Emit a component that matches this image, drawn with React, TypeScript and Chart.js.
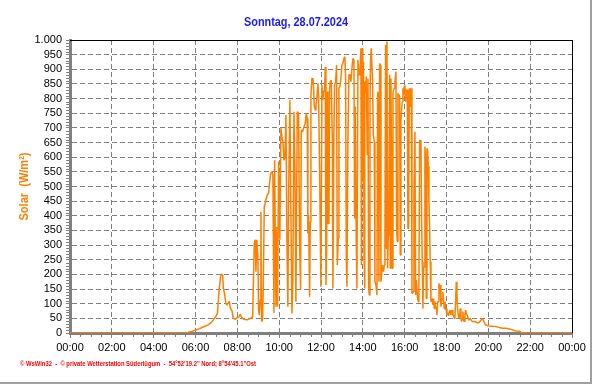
import { useEffect, useRef } from 'react';
import { Chart, registerables } from 'chart.js';

Chart.register(...registerables);

const chartTitle = 'Sonntag, 28.07.2024';
const yAxisTitle = 'Solar  (W/m²)';
const footerText = '© WsWin32  -  © private Wetterstation Süderlügum  -  54°52\'19.2" Nord; 8°54\'45.1"Ost';

const xTickLabels = ['00:00', '02:00', '04:00', '06:00', '08:00', '10:00', '12:00', '14:00', '16:00', '18:00', '20:00', '22:00', '00:00'];
const yTickLabels = ['0', '50', '100', '150', '200', '250', '300', '350', '400', '450', '500', '550', '600', '650', '700', '750', '800', '850', '900', '950', '1.000'];

// time of day in minutes
const solarMinutes = [
  0, 335, 340, 350, 361, 372, 385, 395, 400, 407, 414, 418, 423, 428, 433, 438, 440, 443, 447, 450,
  457, 460, 465, 468, 474, 481, 484, 488, 492, 498, 508, 517, 524, 528.5, 531.4, 533.3, 536.2, 539, 541, 542.9,
  545.7, 547.7, 549.6, 552.4, 554.3, 557.2, 560, 563, 565.8, 569.6, 572.5, 575.4, 579.2, 582, 585, 586.9, 590.7, 593.5, 595.5, 598.3,
  602, 605, 607.9, 610.7, 613.6, 616.5, 619.4, 622.2, 625, 627, 630.8, 633.7, 636.6, 639.4, 642.3, 645.2, 648, 651.9, 655.7, 658.5,
  661.4, 663.3, 667.2, 670, 674.8, 677.7, 680.5, 682.4, 684.4, 687.3, 689.2, 691.1, 694, 696.9, 698.8, 700.7, 703.6, 705.5, 708.3, 711.2,
  713.1, 716, 717.9, 719.8, 722.7, 725.5, 727.5, 730.3, 732.2, 734.2, 736.1, 738, 739.9, 742.8, 744.7, 746.6, 749.5, 752.3, 754.2, 757.1,
  759, 761.9, 764.7, 766.7, 769.5, 771.4, 774.3, 777.2, 780, 782.9, 785.8, 788.6, 790.6, 792.5, 794.4, 797.2, 800.1, 803, 805.9, 808.7,
  811.6, 814.5, 816.4, 818.3, 821.1, 823.1, 825.9, 828.8, 831.7, 834.5, 836, 838, 840, 842, 843.5, 845, 846.1, 848, 849.9, 852.8,
  854.7, 856.6, 858.5, 860.4, 862.3, 864.2, 866.1, 868.1, 870, 872.8, 874.7, 877.6, 880.5, 882.4, 884.3, 886.2, 888.1, 890, 892, 893.9,
  895.8, 897.7, 899.6, 901.5, 903.4, 905.3, 907.2, 909.2, 911.1, 913, 914.9, 916.8, 918.7, 920.6, 922.5, 924.5, 926.4, 928.3, 930.2, 932.1,
  935, 936.9, 938.8, 940.7, 943.6, 945.5, 947.4, 949.3, 951.2, 953.1, 955, 957, 958.9, 960.8, 962.7, 964.6, 967.5, 969.4, 971.3, 973.2,
  975.1, 977, 979, 980.9, 982.8, 984.7, 986.6, 989.5, 991.4, 993.3, 995.2, 997.1, 999, 1000.9, 1002.9, 1004.8, 1006.7, 1008.6, 1010.5, 1012.4,
  1014.3, 1016.2, 1018.1, 1020.1, 1022, 1023.9, 1025.8, 1027.7, 1029.6, 1031.5, 1033.4, 1035.4, 1037.3, 1039.2, 1041.1, 1043, 1044.9, 1046.8, 1048.7, 1050.7,
  1052.6, 1054.5, 1056.4, 1058.3, 1060.2, 1062.1, 1064, 1066, 1067.9, 1069.8, 1071.7, 1073.6, 1075.5, 1077.4, 1079.3, 1081.3, 1083.2, 1085.1, 1087, 1088.9,
  1090.8, 1092.7, 1094.6, 1096.5, 1098.5, 1100.4, 1102.3, 1104.2, 1106.1, 1108, 1109.9, 1111.8, 1113.8, 1115.7, 1117.6, 1119.5, 1121.4, 1123.3, 1125.2, 1127.1,
  1129, 1131, 1132.9, 1134.8, 1136.7, 1139.6, 1142.4, 1145.3, 1148.2, 1151, 1153.9, 1158, 1162.9, 1167.8, 1172.7, 1177.6, 1182.4, 1185.4, 1189.3, 1192.2,
  1202, 1211.7, 1221.5, 1231.2, 1241, 1250.7, 1260.5, 1270.2, 1280, 1289.8, 1294.6, 1299.5, 1440,
];

// solar radiation in W/m²
const solarValues = [
  0, 0, 3, 6, 10, 15, 22, 27, 31, 38, 50, 55, 68, 152, 200, 198, 152, 136, 102, 95,
  108, 84, 75, 51, 47, 53, 54, 65, 55, 47, 45, 50, 55, 306, 318, 209, 318, 261, 78, 61,
  113, 414, 39, 44, 147, 431, 443, 460, 471, 477, 511, 543, 551, 539, 67, 590, 90, 363, 90, 585,
  318, 699, 670, 653, 590, 597, 744, 318, 90, 460, 795, 408, 67, 181, 755, 568, 107, 755, 750, 318,
  147, 693, 687, 699, 716, 750, 733, 340, 403, 124, 380, 812, 869, 869, 835, 778, 761, 778, 801, 852,
  807, 556, 357, 158, 846, 795, 824, 829, 909, 164, 272, 824, 374, 374, 835, 858, 863, 676, 152, 687,
  846, 858, 915, 232, 323, 835, 841, 869, 915, 920, 937, 943, 869, 261, 158, 664, 881, 881, 858, 903,
  937, 932, 391, 772, 312, 152, 932, 881, 881, 972, 232, 972, 517, 926, 266, 152, 858, 818, 875, 608,
  869, 152, 130, 789, 932, 972, 972, 852, 676, 653, 175, 164, 130, 824, 812, 175, 920, 915, 175, 198,
  232, 232, 209, 232, 278, 983, 289, 995, 221, 335, 465, 881, 221, 869, 551, 221, 818, 829, 835, 858,
  892, 357, 312, 818, 812, 807, 266, 727, 761, 789, 835, 812, 841, 846, 789, 829, 829, 357, 357, 835,
  778, 772, 835, 136, 136, 141, 477, 687, 130, 181, 181, 118, 107, 175, 659, 653, 659, 380, 243, 84,
  221, 226, 636, 585, 118, 630, 625, 568, 448, 363, 243, 107, 113, 118, 96, 118, 84, 107, 84, 90,
  61, 107, 107, 170, 152, 164, 90, 107, 118, 141, 107, 84, 107, 78, 84, 61, 67, 61, 67, 73,
  78, 61, 73, 78, 61, 61, 50, 56, 107, 175, 130, 84, 61, 50, 61, 84, 50, 39, 50, 73,
  43, 39, 61, 78, 67, 61, 50, 44, 50, 44, 39, 39, 39, 35, 35, 42, 50, 44, 33, 27,
  24, 23, 22, 19, 16, 16, 14, 10, 7, 6, 2, 0, 0,
];

const FONT = "'Liberation Sans', Arial, sans-serif";

function drawFitted(
  ctx: CanvasRenderingContext2D,
  text: string,
  x: number,
  y: number,
  targetW: number,
  font: string,
  color: string,
  align: CanvasTextAlign,
  rotate = 0,
) {
  ctx.save();
  ctx.font = font;
  const w = ctx.measureText(text).width;
  const s = w > 0 ? targetW / w : 1;
  ctx.translate(x, y);
  if (rotate) ctx.rotate(rotate);
  ctx.scale(s, 1);
  ctx.fillStyle = color;
  ctx.textAlign = align;
  ctx.textBaseline = 'middle';
  ctx.fillText(text, 0, 0);
  ctx.restore();
}

const decorPlugin = {
  id: 'decor',
  beforeDatasetsDraw(chart: any) {
    const { ctx, chartArea: a, scales } = chart;
    const xs = scales.x;
    const ys = scales.y;
    ctx.save();
    ctx.fillStyle = '#808080';
    for (let v = 10; v < 1000; v += 10) {
      if (v % 50 === 0) continue;
      const py = Math.round(ys.getPixelForValue(v));
      ctx.fillRect(a.left - 4, py, 3, 1);
    }
    for (let m = 30; m < 1440; m += 30) {
      if (m % 120 === 0) continue;
      const px = Math.round(xs.getPixelForValue(m));
      ctx.fillRect(px, a.bottom + 1, 1, 3);
    }
    ctx.restore();
  },
  afterDraw(chart: any) {
    const { ctx, chartArea: a, width, height } = chart;
    ctx.save();
    ctx.fillStyle = '#000000';
    ctx.fillRect(a.left, a.top, a.right - a.left + 1, 1);
    ctx.fillRect(a.right, a.top, 1, a.bottom - a.top);
    ctx.fillStyle = '#a0a0a0';
    ctx.fillRect(width - 2, 0, 2, height);
    ctx.fillRect(0, height - 2, width, 2);
    ctx.restore();
    drawFitted(ctx, chartTitle, 296, 23, 104, `bold 12px ${FONT}`, '#1a1aff', 'center');
    drawFitted(ctx, yAxisTitle, 25, (a.top + a.bottom) / 2, 68, `bold 12px ${FONT}`, '#ff8000', 'center', -Math.PI / 2);
    drawFitted(ctx, footerText, 20, 364, 236, `bold 8px ${FONT}`, '#ff0000', 'left');
  },
};

export default function App() {
  const ref = useRef<HTMLCanvasElement>(null);

  useEffect(() => {
    const canvas = ref.current;
    if (!canvas) return;
    const points = solarMinutes.map((m, i) => ({ x: m, y: solarValues[i] }));
    const chart = new Chart(canvas, {
      type: 'line',
      data: {
        datasets: [
          {
            data: points,
            borderColor: '#ff8000',
            backgroundColor: '#ff8000',
            borderWidth: 1.5,
            pointRadius: 0,
            tension: 0,
            fill: false,
            borderJoinStyle: 'bevel',
          },
        ],
      },
      options: {
        responsive: false,
        animation: false,
        devicePixelRatio: 1,
        layout: { padding: { top: 40, right: 20, left: 0, bottom: 0 } },
        plugins: {
          legend: { display: false },
          tooltip: { enabled: false },
          title: { display: false },
        },
        scales: {
          x: {
            type: 'linear',
            min: 0,
            max: 1440,
            afterFit: (s: any) => {
              s.height = 51;
            },
            ticks: {
              stepSize: 120,
              autoSkip: false,
              maxRotation: 0,
              padding: 3,
              color: '#000000',
              font: { family: FONT, size: 11 },
              callback: (_v: any, i: number) => xTickLabels[i],
            },
            grid: {
              color: '#808080',
              lineWidth: 1,
              tickLength: 5,
              tickColor: '#808080',
            },
            border: { display: true, color: '#808080', width: 3, dash: [5, 3] },
          },
          y: {
            min: 0,
            max: 1000,
            afterFit: (s: any) => {
              s.width = 70;
            },
            ticks: {
              stepSize: 50,
              autoSkip: false,
              padding: 4,
              color: '#000000',
              font: { family: FONT, size: 11 },
              callback: (_v: any, i: number) => yTickLabels[i],
            },
            grid: {
              color: '#808080',
              lineWidth: 1,
              tickLength: 4,
              tickColor: '#808080',
            },
            border: { display: true, color: '#808080', width: 3, dash: [5, 3] },
          },
        },
      },
      plugins: [decorPlugin],
    });
    return () => chart.destroy();
  }, []);

  return (
    <div style={{ position: 'fixed', left: 0, top: 0, width: 592, height: 384, background: '#ffffff' }}>
      <canvas ref={ref} width={592} height={384} style={{ display: 'block', width: 592, height: 384 }} />
    </div>
  );
}
